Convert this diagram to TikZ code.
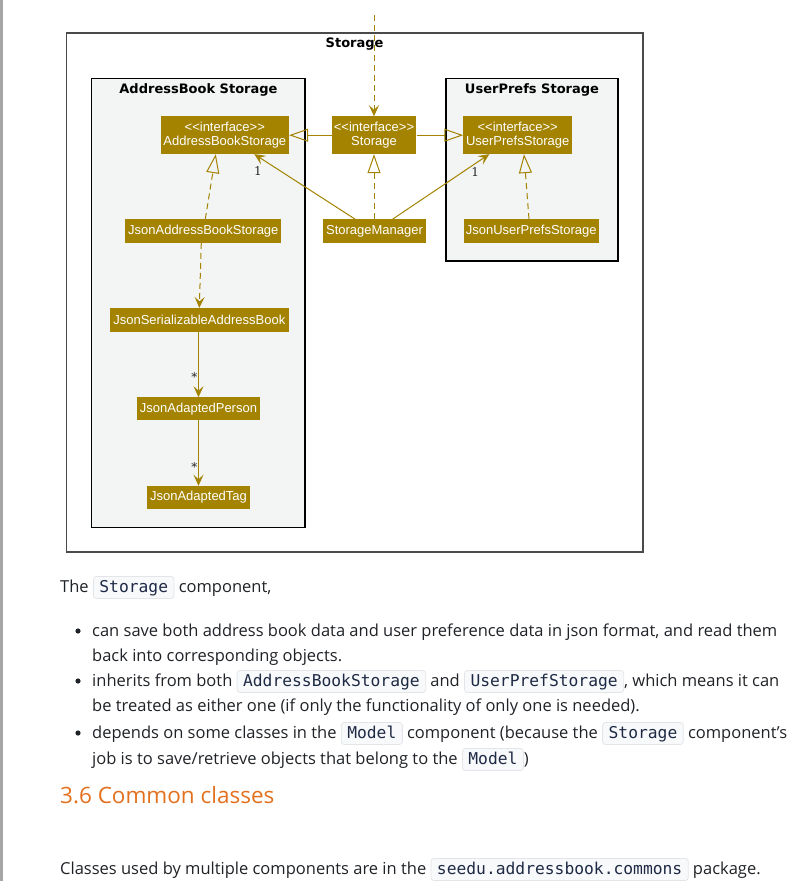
\documentclass[tikz,border=0pt]{standalone}
\usepackage{fontspec}
\setmainfont{Open Sans}
\newfontfamily\umlfont{Liberation Sans}[Ligatures=TeXOff]
\newfontfamily\titlefont{DejaVu Sans}[Ligatures=TeXOff]
\newfontfamily\codefont{DejaVu Sans Mono}
\newfontfamily\multfont{DejaVu Serif}
\usetikzlibrary{arrows.meta,calc}
\definecolor{stc}{HTML}{A38300}
\definecolor{pkgbg}{HTML}{F3F4F4}
\definecolor{txt}{HTML}{1F2226}
\definecolor{codebg}{HTML}{F8F9FA}
\definecolor{codeln}{HTML}{E3E5E8}
\definecolor{codetx}{HTML}{1E2A45}
\definecolor{headc}{HTML}{E3701E}
\definecolor{outerln}{HTML}{4A4A4A}
\tikzset{
  codebox/.style={draw=codeln, fill=codebg, rounded corners=3pt, line width=0.8pt,
    inner xsep=6pt, inner ysep=0pt, text height=15.5pt, text depth=6.5pt,
    font=\codefont\fontsize{16.3}{18}\selectfont, text=codetx, anchor=base},
  outerpkg/.style={draw=outerln, line width=1.8pt, fill=white, inner sep=0pt},
  innerpkg/.style={draw=black, line width=1.2pt, fill=pkgbg, inner sep=0pt},
  pkgtitle/.style={font=\titlefont\bfseries\fontsize{13}{15}\selectfont, text=black, inner sep=0pt},
  cls/.style={fill=stc, text=white, font=\umlfont\fontsize{13}{15}\selectfont,
    inner sep=0pt, align=center},
  iface/.style={cls, minimum height=37.5pt},
  plain/.style={cls, minimum height=23.4pt},
  edge/.style={draw=stc, line width=1pt},
  dashedge/.style={edge, dash pattern=on 6pt off 4pt},
  dep/.style={dashedge, -{Stealth[length=11pt, width=10pt, inset=4.5pt]}},
  assoc/.style={edge, -{Stealth[length=11pt, width=10pt, inset=4.5pt]}},
  gen/.style={edge, -{Triangle[open, length=19pt, width=13pt]}},
  real/.style={dashedge, -{Triangle[open, length=19pt, width=13pt]}},
  mult/.style={font=\multfont\fontsize{12}{14}\selectfont, text=black!85, inner sep=0pt},
  bodytxt/.style={anchor=base west, inner sep=0pt, font=\fontsize{16.5}{20}\selectfont, text=txt},
  bul/.style={circle, fill=txt, inner sep=0pt, minimum size=5.2pt},
  headtxt/.style={anchor=base west, inner sep=0pt, font=\fontsize{22.5}{26}\selectfont, text=headc},
}
\newcommand\cb[1]{\tikz[baseline=(cbx.base)]\node[codebox](cbx){#1};}
\begin{document}
\begin{tikzpicture}[x=1pt,y=-1pt]
\useasboundingbox (0,0) rectangle (802,881);
\fill[black!35] (0,0) rectangle (2.5,881);
% packages
\node[outerpkg, minimum width=576.2pt, minimum height=519pt] (storagePkg) at (354.6,292.8) {};
\node[innerpkg, minimum width=213.5pt, minimum height=449pt] (abPkg) at (198.25,302.8) {};
\node[innerpkg, minimum width=172pt, minimum height=182.7pt] (upPkg) at (532,169.65) {};
\node[pkgtitle] (storageTitle) at (354.6,44.3) {Storage};
\node[pkgtitle] (abTitle) at (198.5,89.7) {AddressBook Storage};
\node[pkgtitle] (upTitle) at (532,89.7) {UserPrefs Storage};
% classes
\node[iface, minimum width=128.3pt] (absI) at (224.8,135.2) {<<interface>>\\[-1pt]AddressBookStorage};
\node[iface, minimum width=84.6pt] (stI) at (374,135.2) {<<interface>>\\[-1pt]Storage};
\node[iface, minimum width=108.5pt] (upsI) at (517.7,135.2) {<<interface>>\\[-1pt]UserPrefsStorage};
\node[plain, minimum width=156pt] (jabs) at (203.3,231) {JsonAddressBookStorage};
\node[plain, minimum width=102.4pt] (sm) at (374.5,231) {StorageManager};
\node[plain, minimum width=135pt] (jups) at (531.2,231) {JsonUserPrefsStorage};
\node[plain, minimum width=178.7pt] (jsab) at (199.3,319.8) {JsonSerializableAddressBook};
\node[plain, minimum width=122.4pt, minimum height=22.7pt] (jap) at (198.5,408.7) {JsonAdaptedPerson};
\node[plain, minimum width=103.6pt, minimum height=22.7pt] (jat) at (198.5,497.3) {JsonAdaptedTag};
% connectors
\coordinate (topc) at (374,15);
\draw[dep] (topc) -- (stI.north);
\draw[gen] (stI.west) -- (absI.east);
\draw[gen] (stI.east) -- (upsI.west);
\draw[real] ($(jabs.north)+(2,0)$) -- ($(absI.south)+(-9,0)$);
\draw[real] (sm.north -| stI.south) -- (stI.south);
\draw[assoc] ($(sm.north)+(-19.5,0)$) -- ($(absI.south)+(29.5,0)$);
\draw[assoc] ($(sm.north)+(18.2,0)$) -- ($(upsI.south)+(-28.4,0)$);
\draw[real] ($(jups.north)+(-2.2,0)$) -- ($(upsI.south)+(6.3,0)$);
\draw[dep] ($(jabs.south)+(-2,0)$) -- (jsab.north);
\draw[assoc] (jsab.south -| jap.north) -- (jap.north);
\draw[assoc] (jap.south) -- (jat.north);
% multiplicities
\node[mult] (m1) at (258,171) {1};
\node[mult] (m2) at (475.3,171.7) {1};
\node[mult] (m3) at (194.3,377.5) {*};
\node[mult] (m4) at (194.3,467) {*};
% text below
\node[bodytxt] (p1) at (60,592) {The \cb{Storage} component,};
\node[bul] (b1) at (78,631) {};
\node[bodytxt] (l1) at (92,636) {can save both address book data and user preference data in json format, and read them};
\node[bodytxt] (l2) at (92,661) {back into corresponding objects.};
\node[bul] (b2) at (78,681) {};
\node[bodytxt] (l3) at (92,686) {inherits from both \cb{AddressBookStorage} and \cb{UserPrefStorage}, which means it can};
\node[bodytxt] (l4) at (92,711) {be treated as either one (if only the functionality of only one is needed).};
\node[bul] (b3) at (78,733) {};
\node[bodytxt] (l5) at (92,738) {depends on some classes in the \cb{Model} component (because the \cb{Storage} component’s};
\node[bodytxt] (l6) at (92,764) {job is to save/retrieve objects that belong to the \cb{Model})};
\node[headtxt] (h1) at (60,803) {3.6 Common classes};
\node[bodytxt] (l7) at (60,874) {Classes used by multiple components are in the \cb{seedu.addressbook.commons} package.};
\end{tikzpicture}
\end{document}
